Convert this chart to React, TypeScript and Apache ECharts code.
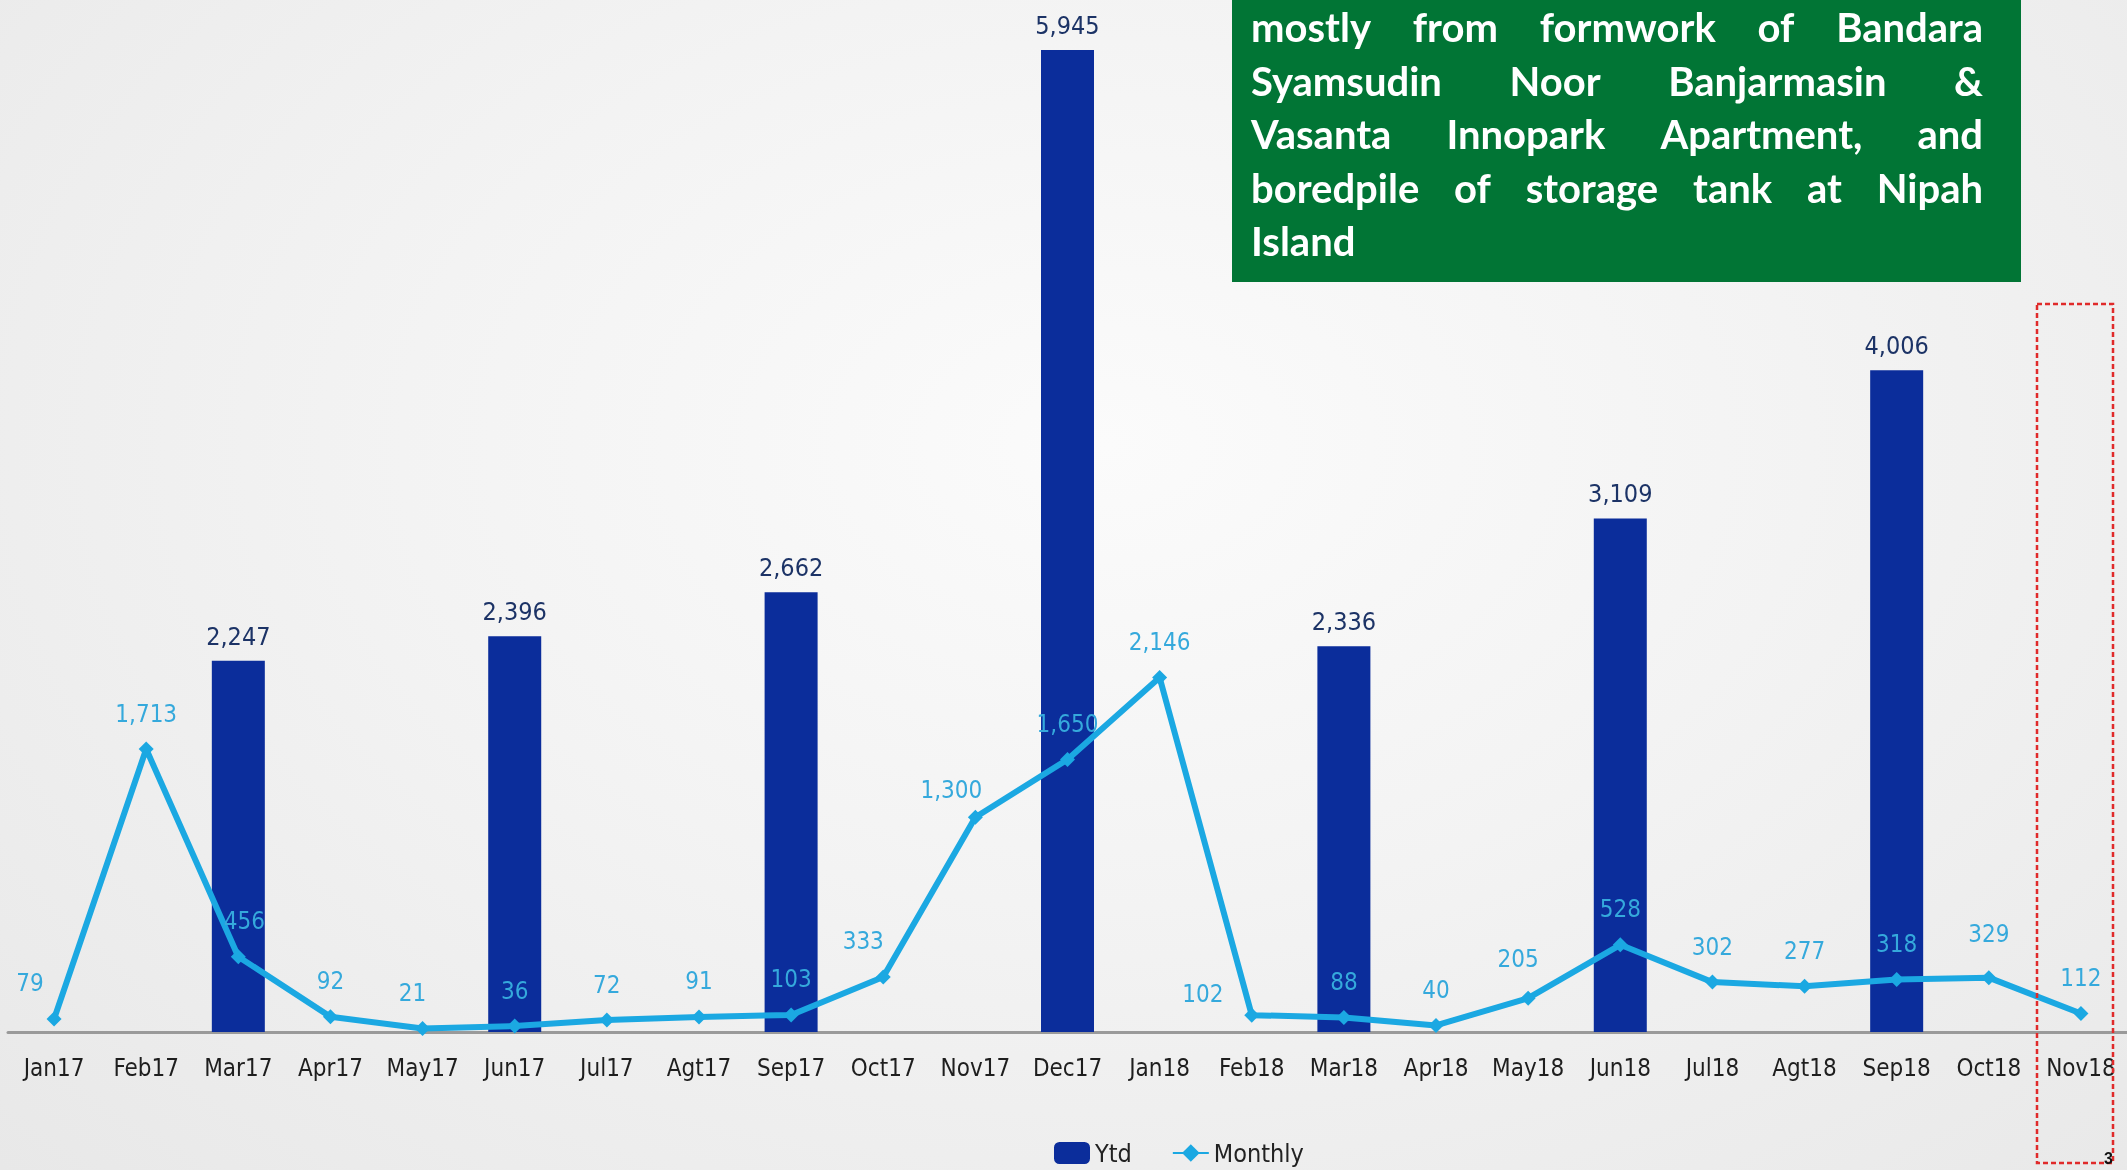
import React, { useEffect, useRef } from "react";
import * as echarts from "echarts";

const categories = [
  "Jan17", "Feb17", "Mar17", "Apr17", "May17", "Jun17", "Jul17", "Agt17", "Sep17", "Oct17", "Nov17", "Dec17",
  "Jan18", "Feb18", "Mar18", "Apr18", "May18", "Jun18", "Jul18", "Agt18", "Sep18", "Oct18", "Nov18",
];

const ytdValues: (number | null)[] = [
  null, null, 2247, null, null, 2396, null, null, 2662, null, null, 5945,
  null, null, 2336, null, null, 3109, null, null, 4006, null, null,
];

const monthlyValues = [
  79, 1713, 456, 92, 21, 36, 72, 91, 103, 333, 1300, 1650,
  2146, 102, 88, 40, 205, 528, 302, 277, 318, 329, 112,
];

const seriesNames = ["Ytd", "Monthly"];

const noteLines = [
  "mostly from formwork of Bandara",
  "Syamsudin Noor Banjarmasin &",
  "Vasanta Innopark Apartment, and",
  "boredpile of storage tank at Nipah",
  "Island",
];

const pageNumber = "3";

const NARROW = "'Liberation Sans Narrow', 'DejaVu Sans Condensed', 'Noto Sans', sans-serif";
const NOTE_FONT = "Lato, 'Open Sans', sans-serif";

const fmt = (v: number) => v.toLocaleString("en-US");

function buildNote(): any[] {
  const els: any[] = [];
  const x0 = 1251;
  const x1 = 1983;
  const width = x1 - x0;
  const fontSize = 40;
  const canvas = document.createElement("canvas");
  const ctx = canvas.getContext("2d")!;
  ctx.font = `bold ${fontSize}px ${NOTE_FONT}`;
  noteLines.forEach((line, li) => {
    const y = 27 + li * 53.6;
    const words = line.split(" ");
    const last = li === noteLines.length - 1;
    const widths = words.map((w) => ctx.measureText(w).width);
    const total = widths.reduce((a, b) => a + b, 0);
    const gap = !last && words.length > 1 ? (width - total) / (words.length - 1) : ctx.measureText(" ").width;
    let x = x0;
    words.forEach((w, i) => {
      els.push({
        type: "text",
        x,
        y,
        z: 20,
        style: {
          text: w,
          fill: "#ffffff",
          font: `bold ${fontSize}px ${NOTE_FONT}`,
          textAlign: "left",
          textVerticalAlign: "middle",
        },
      });
      x += widths[i] + gap;
    });
  });
  return els;
}

const monthlyLabelShift: Record<string, [number, number]> = {
  Jan17: [-24, 0],
  Mar17: [6, 0],
  May17: [-10, 0],
  Oct17: [-20, 0],
  Nov17: [-24, 8],
  Feb18: [-49, 14],
  May18: [-10, -4],
  Oct18: [0, -8],
};

export default function App() {
  const ref = useRef<HTMLDivElement>(null);

  useEffect(() => {
    if (!ref.current) return;
    const chart = echarts.init(ref.current, null, { renderer: "svg" });

    const monthlyData = monthlyValues.map((v, i) => {
      const shift = monthlyLabelShift[categories[i]];
      return shift ? { value: v, label: { offset: shift } } : { value: v };
    });

    chart.setOption({
      animation: false,
      backgroundColor: "transparent",
      grid: { left: 8, right: 0, top: 41, bottom: 138, outerBoundsMode: "none" },
      legend: {
        left: 1049,
        top: 1135,
        itemWidth: 36,
        itemHeight: 22,
        itemGap: 40,
        textStyle: { fontSize: 25, lineHeight: 26, color: "#222", fontFamily: NARROW },
        data: seriesNames,
      },
      xAxis: {
        type: "category",
        data: categories,
        boundaryGap: true,
        axisLine: { lineStyle: { color: "#9a9a9a", width: 3 } },
        axisTick: { show: false },
        axisLabel: {
          fontSize: 24,
          color: "#1e1e1e",
          margin: 24,
          fontFamily: NARROW,
          interval: 0,
        },
      },
      yAxis: {
        type: "value",
        min: 0,
        max: 6000,
        show: false,
        splitLine: { show: false },
      },
      series: [
        {
          name: seriesNames[0],
          type: "bar",
          data: ytdValues,
          barWidth: 53,
          itemStyle: { color: "#0b2d9b" },
          label: {
            show: true,
            position: "top",
            distance: 12,
            fontSize: 25,
            color: "#1c3366",
            fontFamily: NARROW,
            formatter: (p: any) => fmt(p.value),
          },
          z: 2,
        },
        {
          name: seriesNames[1],
          type: "line",
          data: monthlyData,
          symbol: "diamond",
          symbolSize: 15,
          lineStyle: { color: "#1ba8e2", width: 6 },
          itemStyle: { color: "#1ba8e2" },
          label: {
            show: true,
            position: "top",
            distance: 16,
            fontSize: 24,
            color: "#35a9dc",
            fontFamily: NARROW,
            formatter: (p: any) => fmt(p.value),
          },
          z: 3,
        },
      ],
      graphic: [
        {
          type: "rect",
          z: 10,
          shape: { x: 1232, y: 0, width: 789, height: 282 },
          style: { fill: "#017535" },
        },
        ...buildNote(),
        {
          type: "rect",
          z: 10,
          shape: { x: 2037, y: 304, width: 76, height: 859 },
          style: { fill: "none", stroke: "#e02a2a", lineWidth: 2.5, lineDash: [5, 3] },
        },
        {
          type: "text",
          x: 2104,
          y: 1150,
          z: 10,
          style: {
            text: pageNumber,
            fill: "#111",
            font: "bold 16px 'Liberation Sans', sans-serif",
            textAlign: "left",
            textVerticalAlign: "top",
          },
        },
      ],
    });

    return () => chart.dispose();
  }, []);

  return (
    <div
      style={{
        position: "fixed",
        left: 0,
        top: 0,
        width: 2127,
        height: 1170,
        overflow: "hidden",
        background: "radial-gradient(ellipse at 52% 38%, #fbfbfb 0%, #f3f3f3 45%, #e8e8e8 100%)",
      }}
    >
      <div ref={ref} style={{ width: 2127, height: 1170 }} />
    </div>
  );
}
